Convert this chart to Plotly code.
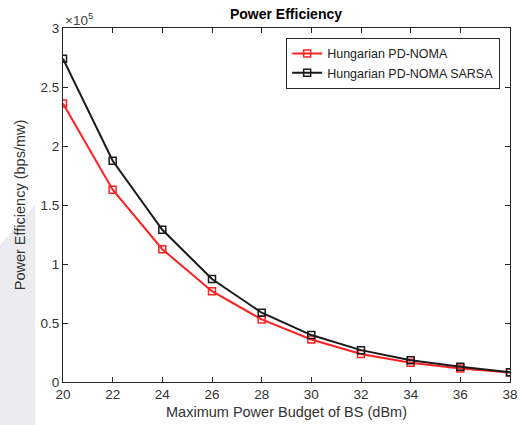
import plotly.graph_objects as go

x_power = [20, 22, 24, 26, 28, 30, 32, 34, 36, 38]
pe_hungarian = [2.36e5, 1.63e5, 1.125e5, 0.77e5, 0.53e5, 0.36e5, 0.237e5, 0.163e5, 0.115e5, 0.08e5]
pe_sarsa = [2.74e5, 1.875e5, 1.29e5, 0.873e5, 0.587e5, 0.398e5, 0.27e5, 0.185e5, 0.13e5, 0.082e5]
y_ticks = [0, 0.5e5, 1e5, 1.5e5, 2e5, 2.5e5, 3e5]
y_labels = ["0", "0.5", "1", "1.5", "2", "2.5", "3"]

font = "Liberation Sans, Arial, sans-serif"
fig = go.Figure()
fig.add_trace(go.Scatter(x=x_power, y=pe_hungarian, mode="lines+markers", name="Hungarian PD-NOMA",
                         line=dict(color="#ff2020", width=2),
                         marker=dict(symbol="square-open", size=7, color="#ff2020", line=dict(width=1.5))))
fig.add_trace(go.Scatter(x=x_power, y=pe_sarsa, mode="lines+markers", name="Hungarian PD-NOMA SARSA",
                         line=dict(color="#1a1a1a", width=2),
                         marker=dict(symbol="square-open", size=7, color="#1a1a1a", line=dict(width=1.5))))

axis_common = dict(showgrid=False, zeroline=False, showline=True, linecolor="#262626", linewidth=1,
                   mirror="ticks", ticks="inside", ticklen=5, tickcolor="#262626", automargin=False,
                   tickfont=dict(family=font, size=13.5, color="#333333"))
fig.update_xaxes(range=[20, 38], tickvals=x_power, **axis_common,
                 title=dict(text="Maximum Power Budget of BS (dBm)", font=dict(family=font, size=14.5, color="#333333"), standoff=5))
fig.update_yaxes(range=[0, 3e5], tickvals=y_ticks, ticktext=y_labels, **axis_common,
                 title=dict(text="Power Efficiency (bps/mw)", font=dict(family=font, size=14.5, color="#333333"), standoff=11))

fig.add_annotation(text="×10<sup>5</sup>", xref="paper", yref="paper", x=0, y=1.0, xanchor="left", yanchor="bottom",
                   showarrow=False, font=dict(family=font, size=13.5, color="#444444"), yshift=-2)
fig.add_shape(type="path", xref="paper", yref="paper",
              path="M -0.141 0.387 L -0.0626 0.5 L -0.0626 -0.125 L -0.141 -0.125 Z",
              fillcolor="#ececf0", line=dict(width=0), layer="below")

fig.update_layout(
    width=521, height=425,
    margin=dict(l=63, r=11, t=28, b=43),
    paper_bgcolor="white", plot_bgcolor="white",
    title=dict(text="<b>Power Efficiency</b>", x=286 / 521, xanchor="center", y=0.968, yanchor="middle",
               font=dict(family=font, size=14, color="black")),
    legend=dict(x=0.978, y=0.972, xanchor="right", yanchor="top", bgcolor="white",
                bordercolor="#262626", borderwidth=1, font=dict(family=font, size=12.5, color="#222222"),
                tracegroupgap=0, itemwidth=30),
    showlegend=True,
)
fig.write_html("out.html", config={"displayModeBar": False},
               post_script="document.body.style.margin='0px';")
